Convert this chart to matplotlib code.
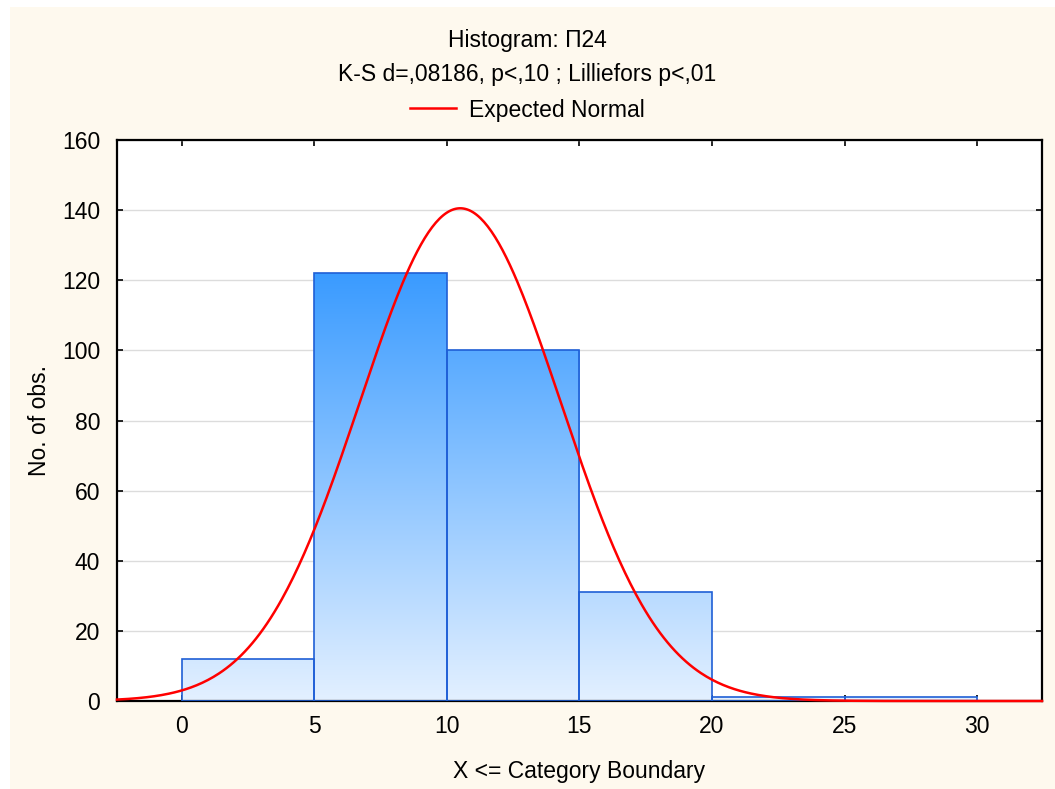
import numpy as np
import matplotlib
matplotlib.use('Agg')
import matplotlib.pyplot as plt
from matplotlib.patches import Rectangle
from matplotlib.lines import Line2D

plt.rcParams['font.family'] = ['Liberation Sans', 'DejaVu Sans']

# Datos
bordes = [0, 5, 10, 15, 20, 25, 30]
conteos = [12, 122, 100, 31, 1, 1]
media = 10.5
desv = 3.79
n_total = sum(conteos)
ancho = 5
yticks = [0, 20, 40, 60, 80, 100, 120, 140, 160]
xticks = [0, 5, 10, 15, 20, 25, 30]

fig = plt.figure(figsize=(10.55, 7.89), dpi=100, facecolor='white')
# fondo crema
fig.patches.append(Rectangle((10 / 1055, 0), 1, 1 - 7 / 789, transform=fig.transFigure,
                             facecolor='#fef9ee', edgecolor='none', zorder=-10))

ax = fig.add_axes([117 / 1055, 1 - 701 / 789, 925 / 1055, 561 / 789])
ax.set_facecolor('white')

# Rejilla
ax.set_yticks(yticks)
ax.set_xticks(xticks)
ax.grid(axis='y', color='#dcdcdc', lw=1)
ax.set_axisbelow(True)

# Barras con degradado
grad = np.linspace(0, 1, 256).reshape(-1, 1)
cmap = matplotlib.colors.LinearSegmentedColormap.from_list('azul', ['#e3f0ff', '#3a9bff'])
for i, c in enumerate(conteos):
    x0, x1 = bordes[i], bordes[i + 1]
    rect = Rectangle((x0, 0), x1 - x0, c, facecolor='none', edgecolor='#1f5fd6', lw=1.2, zorder=3)
    ax.add_patch(rect)
    im = ax.imshow(grad, extent=[x0, x1, 0, 122], origin='lower', aspect='auto',
                   cmap=cmap, zorder=2)
    im.set_clip_path(rect)

# Curva normal esperada
xs = np.linspace(-2.45, 32.45, 500)
ys = n_total * ancho / (desv * np.sqrt(2 * np.pi)) * np.exp(-0.5 * ((xs - media) / desv) ** 2)
ax.plot(xs, ys, color='#ff0000', lw=1.8, zorder=4, clip_on=False)

ax.set_xlim(-2.45, 32.45)
ax.set_ylim(0, 160)

for s in ax.spines.values():
    s.set_linewidth(1.6)
    s.set_color('black')
ax.tick_params(direction='in', length=4, width=1.2, labelsize=16.5, top=True, right=True)
ax.tick_params(axis='x', pad=10)
ax.tick_params(axis='y', pad=12)

ax.set_xlabel('X <= Category Boundary', fontsize=16.5, labelpad=16)
ax.set_ylabel('No. of obs.', fontsize=16.5, labelpad=8)

fig.text(0.5, 1 - 40 / 789, 'Histogram: П24', ha='center', va='center', fontsize=16.5)
fig.text(0.5, 1 - 75 / 789, 'K-S d=,08186, p<,10 ; Lilliefors p<,01', ha='center', va='center',
         fontsize=16.5)
leg = fig.legend(handles=[Line2D([], [], color='#ff0000', lw=1.8)], labels=['Expected Normal'],
                 loc='center', bbox_to_anchor=(0.5, 1 - 110 / 789), frameon=False, fontsize=16.5,
                 handlelength=2.0, handletextpad=0.6)

fig.savefig('out.png', dpi=100, facecolor=fig.get_facecolor())
